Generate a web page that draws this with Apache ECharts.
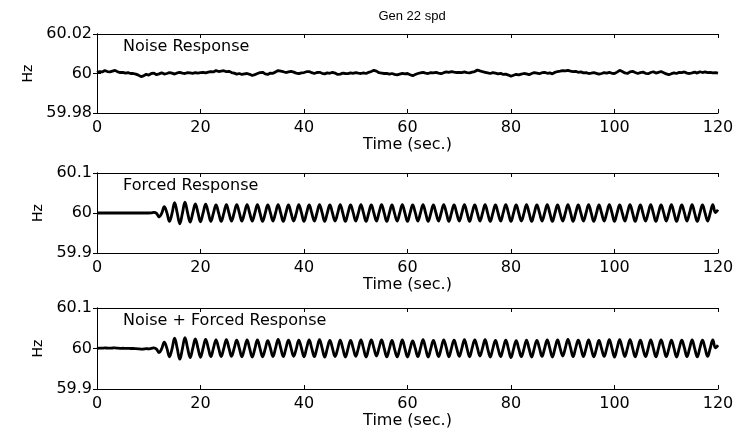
<!DOCTYPE html>
<html>
<head>
<meta charset="utf-8">
<script src="https://cdn.jsdelivr.net/npm/echarts@6/dist/echarts.min.js"></script>
<style>html,body{margin:0;padding:0;background:#fff;}#c{width:745px;height:435px;}</style>
</head>
<body>
<div id="c"></div>
<script>
// Time samples every 0.5 s from 0 to 120 s
var sampleStep = 0.5;
var xTicks = [0, 20, 40, 60, 80, 100, 120];
var yTicksNoise = ['59.98', '60', '60.02'];
var yTicksForced = ['59.9', '60', '60.1'];
var panelLabels = ['Noise Response', 'Forced Response', 'Noise + Forced Response'];
var chartTitle = 'Gen 22 spd';
var baseHz = 60;

// Noise response: deviation from 60 Hz in mHz
var noiseDevMilliHz = [
 0.5,1,0.8,1.5,1,0.8,1.2,1.6,0.8,0.5,0.6,0.2,0.4,0,0,-0.3,-0.8,-1.6,-1.2,-0.4,
 -0.8,0,0.2,-0.6,-0.2,0.4,-0.3,0,0.5,0.2,-0.3,0.3,0.6,0.2,0,0.4,0.3,0.1,0.5,0.2,
 0.4,0.6,0.3,0.7,1.0,0.8,1.5,1.0,1.2,1.4,0.9,1.1,0.5,0.2,-0.3,0,-0.5,-0.2,0,-0.4,
 -1.0,-0.6,0,0.4,0.6,-0.2,-0.5,0.2,0.1,0.8,1.5,1.2,0.9,0.5,0.8,1.1,0.7,0.2,-0.1,0.3,
 0.5,0.9,1.0,0.4,0,0.5,0.6,0.1,-0.2,0.3,0.1,0.6,0.2,-0.5,-0.3,0.2,0,-0.1,0.3,0.1,
 0.5,0.2,0,0.3,0,0.6,1.0,1.6,1.2,0.4,0.2,0,0.1,-0.3,0,-0.4,-0.7,-0.3,0.1,-0.2,
 0,-0.6,-1.1,-0.5,0,0.3,0.6,0.2,0,0.5,0.3,0.6,0.2,-0.1,0.4,0.8,0.6,1.0,0.7,0.5,
 0.6,0.4,0.8,0.5,0.3,0.7,1.0,1.8,1.3,0.9,0.6,0.3,0,0.5,0.2,-0.2,0.1,-0.5,-0.3,-0.8,
 -1.4,-0.9,-0.4,-0.7,-0.3,0,-0.2,-0.6,0,0.5,0.2,-0.1,0.4,0.6,0.1,0.3,-0.2,0.6,1.0,1.2,
 1.5,1.3,1.6,1.2,0.9,1.1,0.6,0.8,0.3,0.5,0,0.2,0.5,0.1,-0.3,0,0.4,0.2,0.6,0.1,
 0,0.7,1.6,1.0,0.3,0,0.8,1.1,0.5,0,0.4,0.7,0.1,-0.1,0.5,0.9,0.2,0.6,1.0,0.4,
 -0.2,-0.6,-0.1,0.3,0,0.6,0.4,0.8,0.2,0,0.3,0.7,0.2,0.9,0.5,0.8,0.4,0.6,0.3,0.5,
 0.2
];

// Forced response: deviation from 60 Hz in mHz
var forcedDevMilliHz = [
 0,0,0,0,0,0,0,0,0,0,0,0,0,0,0,0,0,0,0,0,
 0,0.5,1.5,-1,-10,-1,16,1,-21,-1,26,0,-27,-1,27,1,-23,0,23,1,
 -22,0,22,1,-21,0,20,0,-21,-1,21,0,-20,0,21,1,-20,0,21,0,
 -20,0,21,0,-21,-1,20,1,-20,0,21,0,-21,0,20,0,-20,-1,21,1,
 -21,0,20,0,-20,0,21,1,-21,0,20,0,-20,-1,21,0,-21,0,20,1,
 -20,0,21,0,-21,0,20,0,-20,1,21,0,-21,0,20,-1,-20,0,21,0,
 -21,0,20,1,-20,0,21,0,-21,-1,20,0,-20,0,21,1,-21,0,20,0,
 -20,0,21,0,-21,1,20,0,-20,0,21,-1,-21,0,20,0,-20,1,21,0,
 -21,0,20,0,-20,-1,21,0,-21,0,20,1,-20,0,21,0,-21,0,20,-1,
 -20,0,21,1,-21,0,20,0,-20,0,21,0,-21,-1,20,0,-20,0,21,1,
 -21,0,20,0,-20,1,21,0,-21,0,20,-1,-20,0,21,0,-21,0,20,1,
 -20,0,21,0,-21,0,20,1,-20,0,21,-1,-21,0,20,0,-20,0,21,1,
 8
];

function toPairs(devs) {
  return devs.map(function (d, i) {
    return [i * sampleStep, Math.round((baseHz + d / 1000) * 1e6) / 1e6];
  });
}
var noiseData = toPairs(noiseDevMilliHz);
var forcedData = toPairs(forcedDevMilliHz);
var combinedData = toPairs(noiseDevMilliHz.map(function (n, i) { return n + forcedDevMilliHz[i]; }));

var FONT = 'DejaVu Sans';
var grids = [
  { left: 97, right: 27, top: 34, height: 79 },
  { left: 97, right: 27, top: 173, height: 80 },
  { left: 97, right: 27, top: 308, height: 81 }
];
var yRanges = [yTicksNoise, yTicksForced, yTicksForced];

var xAxes = [], yAxes = [], series = [], graphics = [];
var datasets = [noiseData, forcedData, combinedData];
grids.forEach(function (g, i) {
  var ticks = yRanges[i];
  var ymin = parseFloat(ticks[0]), ymax = parseFloat(ticks[ticks.length - 1]);
  var yint = parseFloat(ticks[1]) - ymin;
  xAxes.push({
    type: 'value', gridIndex: i, position: 'bottom',
    min: xTicks[0], max: xTicks[xTicks.length - 1], interval: xTicks[1] - xTicks[0],
    name: 'Time (sec.)', nameLocation: 'middle', nameGap: 19,
    nameTextStyle: { fontFamily: FONT, fontSize: 16, color: '#000' },
    axisLine: { lineStyle: { color: '#000', width: 1 } },
    axisTick: { inside: true, length: 4, lineStyle: { color: '#000' } },
    axisLabel: { fontFamily: FONT, fontSize: 16, color: '#000', margin: 7 },
    splitLine: { show: false }
  });
  xAxes.push({
    type: 'value', gridIndex: i, position: 'top',
    min: xTicks[0], max: xTicks[xTicks.length - 1], interval: xTicks[1] - xTicks[0],
    axisLine: { lineStyle: { color: '#000', width: 1 } },
    axisTick: { inside: true, length: 4, lineStyle: { color: '#000' } },
    axisLabel: { show: false },
    splitLine: { show: false }
  });
  yAxes.push({
    type: 'value', gridIndex: i, position: 'left',
    min: ymin, max: ymax, interval: yint,
    name: 'Hz', nameLocation: 'middle', nameGap: 48, nameRotate: 90,
    nameTextStyle: { fontFamily: FONT, fontSize: 14, color: '#000' },
    axisLine: { show: true, lineStyle: { color: '#000', width: 1 } },
    axisTick: { show: true, inside: true, length: 4, lineStyle: { color: '#000' } },
    axisLabel: { fontFamily: FONT, fontSize: 16, color: '#000', margin: 5,
      formatter: function (v) {
        var best = ticks[0], bd = Infinity;
        ticks.forEach(function (t) { var d = Math.abs(parseFloat(t) - v); if (d < bd) { bd = d; best = t; } });
        return best;
      } },
    splitLine: { show: false }
  });
  yAxes.push({
    type: 'value', gridIndex: i, position: 'right',
    min: ymin, max: ymax, interval: yint,
    axisLine: { show: true, lineStyle: { color: '#000', width: 1 } },
    axisTick: { show: true, inside: true, length: 4, lineStyle: { color: '#000' } },
    axisLabel: { show: false },
    splitLine: { show: false }
  });
  series.push({
    type: 'line', xAxisIndex: i * 2, yAxisIndex: i * 2,
    data: datasets[i], showSymbol: false, smooth: i === 0 ? false : 0.4,
    lineStyle: { color: '#000', width: 2.8 }, animation: false
  });
  graphics.push({
    type: 'text', left: g.left + 26, top: g.top + 5,
    style: { text: panelLabels[i], font: '16px "' + FONT + '"', fill: '#000' }
  });
});

var chart = echarts.init(document.getElementById('c'), null, { renderer: 'canvas' });
chart.setOption({
  backgroundColor: '#fff',
  animation: false,
  title: { text: chartTitle, left: 407, top: 5, textAlign: 'center',
    textStyle: { fontFamily: 'Liberation Sans', fontSize: 13, fontWeight: 'normal', color: '#000' } },
  grid: grids,
  xAxis: xAxes,
  yAxis: yAxes,
  series: series,
  graphic: graphics
});
</script>
</body>
</html>
